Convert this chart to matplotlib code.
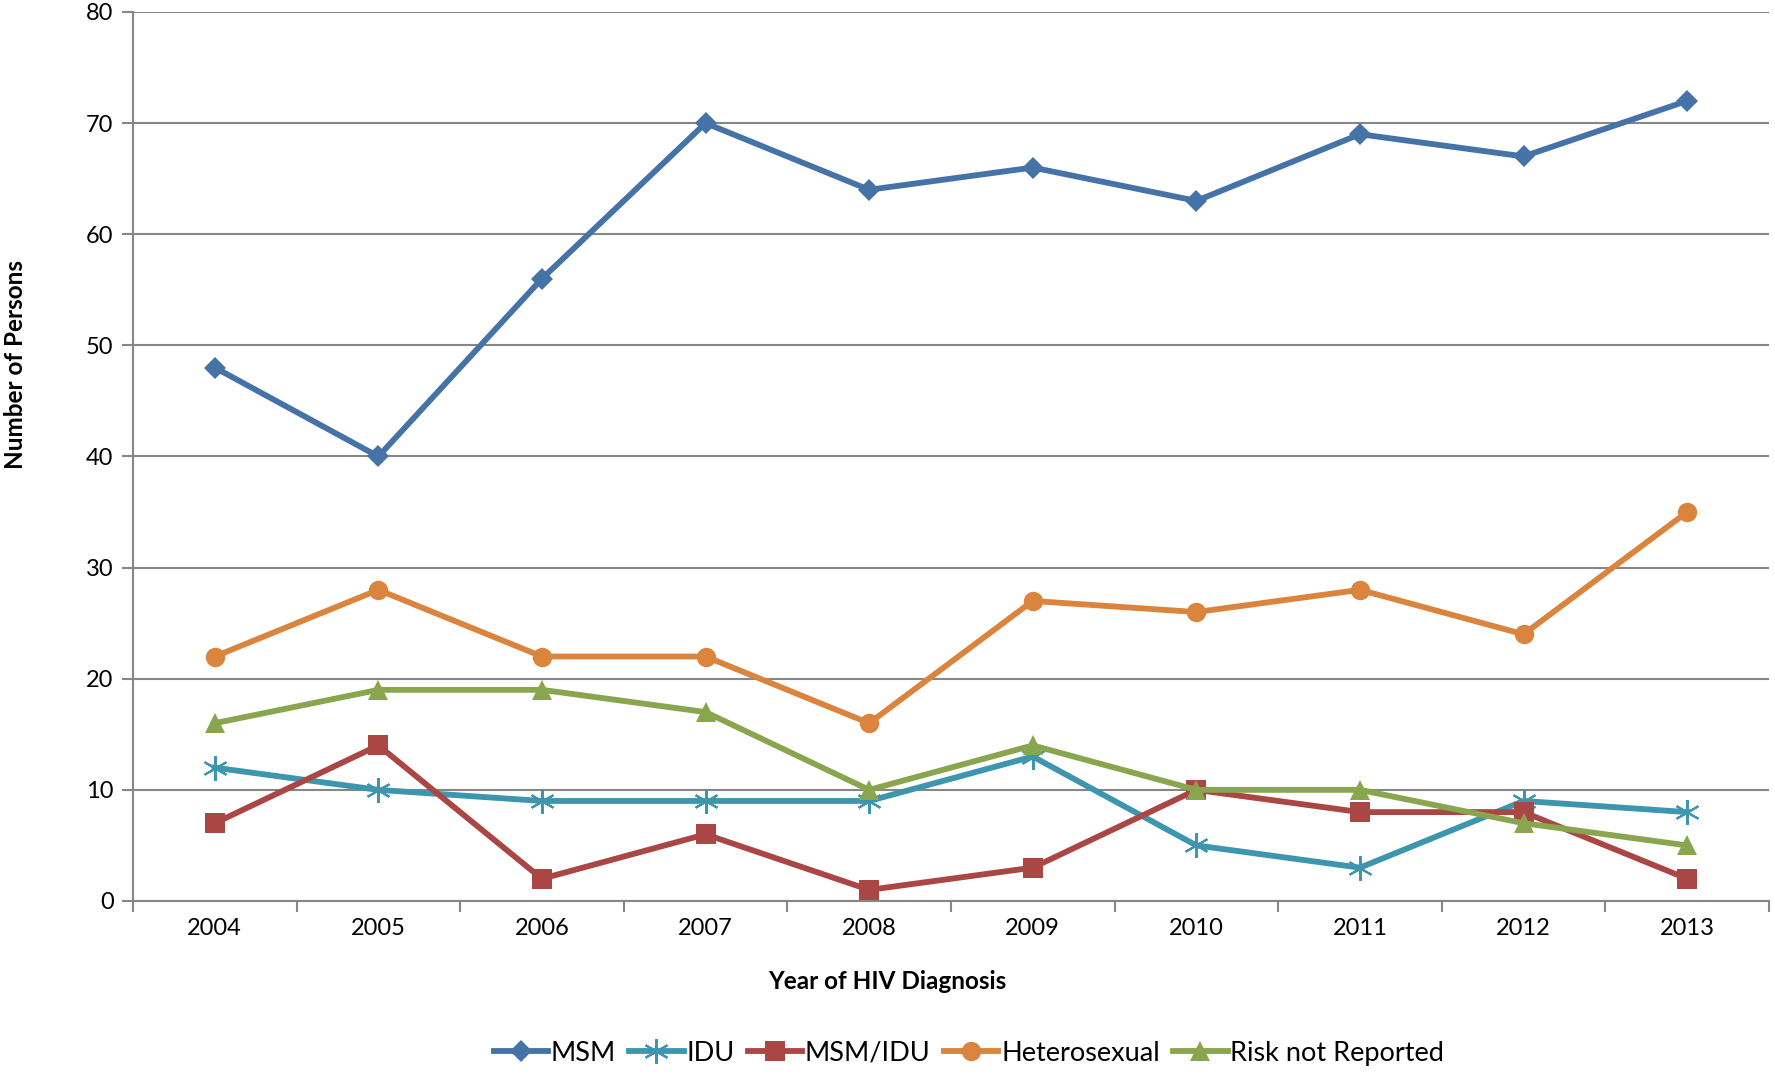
import numpy as np
import matplotlib
matplotlib.use('Agg')
import matplotlib.pyplot as plt

plt.rcParams['font.family'] = ['Lato', 'DejaVu Sans']

# data
years = ['2004', '2005', '2006', '2007', '2008', '2009', '2010', '2011', '2012', '2013']
msm = [48, 40, 56, 70, 64, 66, 63, 69, 67, 72]
idu = [12, 10, 9, 9, 9, 13, 5, 3, 9, 8]
msm_idu = [7, 14, 2, 6, 1, 3, 10, 8, 8, 2]
hetero = [22, 28, 22, 22, 16, 27, 26, 28, 24, 35]
risk_nr = [16, 19, 19, 17, 10, 14, 10, 10, 7, 5]

series = [
    ('MSM', msm, '#4572A7', 'D', 11),
    ('IDU', idu, '#3D96AE', (6, 2, 0), 18),
    ('MSM/IDU', msm_idu, '#AA4643', 's', 14),
    ('Heterosexual', hetero, '#DB843D', 'o', 14),
    ('Risk not Reported', risk_nr, '#89A54E', '^', 15),
]

fig = plt.figure(figsize=(17.75, 10.78), dpi=100)
ax = fig.add_axes([0.0749, 0.1642, 0.9217, 0.8247])

x = np.arange(len(years))
for name, vals, col, mk, ms in series:
    kw = dict(markeredgewidth=1.5) if mk == (6, 2, 0) else dict(markeredgewidth=0)
    ax.plot(x, vals, color=col, lw=4.2, marker=mk, markersize=ms,
            markerfacecolor=col, markeredgecolor=col, label=name, **kw)

ax.set_xlim(-0.5, len(years) - 0.5)
ax.set_ylim(0, 80)
ax.set_yticks(range(0, 81, 10))
ax.set_xticks(x)
ax.set_xticklabels(years)
ax.set_xticks(np.arange(-0.5, len(years)), minor=True)
ax.tick_params(axis='x', which='major', length=0, labelsize=17, pad=12)
ax.tick_params(axis='x', which='minor', length=8, color='#868686', width=1.5)
ax.tick_params(axis='y', length=8, color='#868686', width=1.5, labelsize=17, pad=6)

ax.grid(axis='y', color='#868686', lw=1.5)
ax.set_axisbelow(True)
for s in ['top', 'right']:
    ax.spines[s].set_visible(False)
for s in ['left', 'bottom']:
    ax.spines[s].set_color('#868686')
    ax.spines[s].set_linewidth(1.5)

ax.set_xlabel('Year of HIV Diagnosis', fontsize=17.5, fontweight='bold')
ax.set_ylabel('Number of Persons', fontsize=17.5, fontweight='bold')
ax.xaxis.set_label_coords(0.461, -0.078)
ax.yaxis.set_label_coords(-0.065, 0.603)

ax.legend(loc='upper center', bbox_to_anchor=(0.511, -0.13), ncol=5, frameon=False,
          fontsize=19.5, handlelength=2.0, handletextpad=0.1, columnspacing=0.5)

fig.savefig('out.png', dpi=100)
